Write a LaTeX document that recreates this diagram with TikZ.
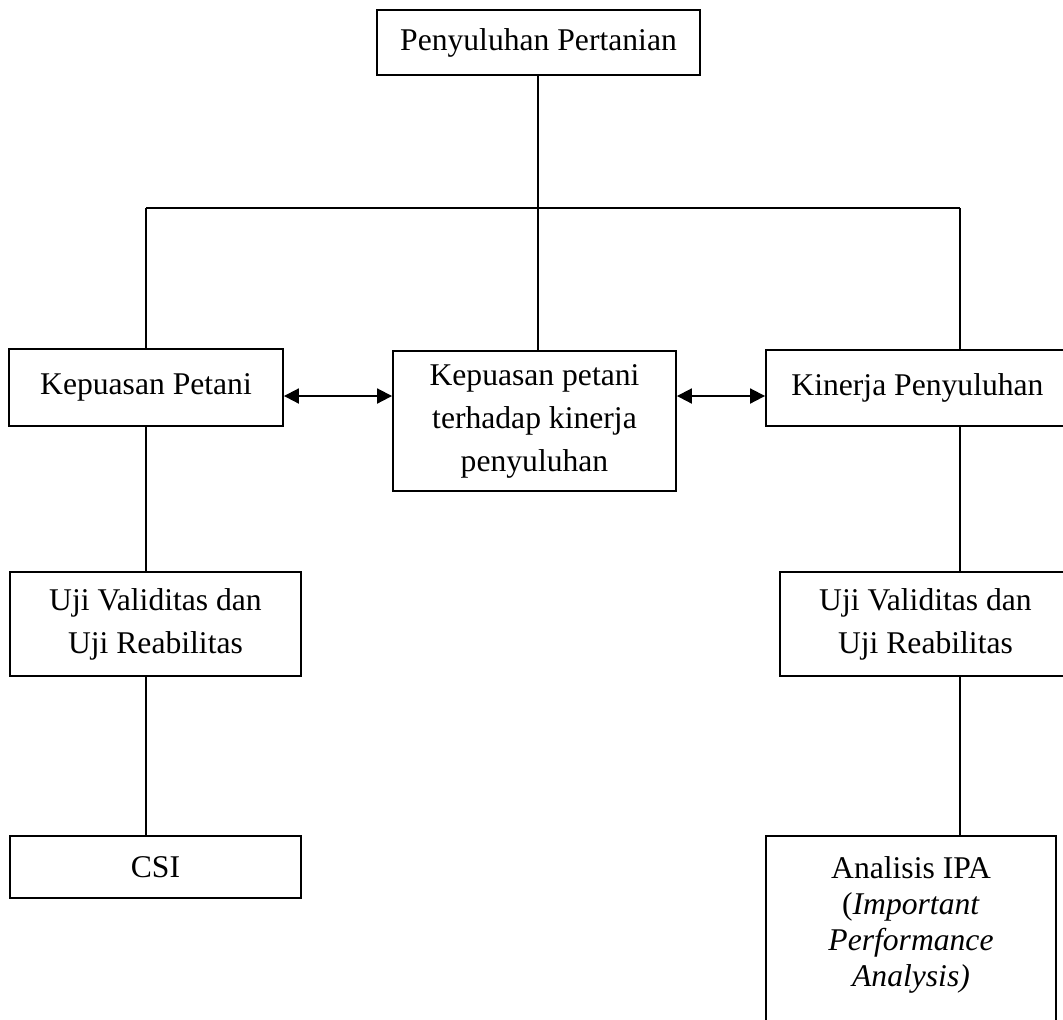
\documentclass[tikz,border=0pt]{standalone}
\usepackage{fontspec}
\setmainfont{Liberation Serif}
\usetikzlibrary{arrows.meta}

\begin{document}
\begin{tikzpicture}[x=0.02cm, y=-0.02cm, line width=1.1pt,
  box/.style={draw, align=center, inner sep=0pt, font=\fontsize{18}{24.5}\selectfont},
  link/.style={{Triangle[length=0.3cm,width=0.3cm]}-{Triangle[length=0.3cm,width=0.3cm]}}]
\useasboundingbox (0,0) rectangle (1063,1019);
\clip (0,0) rectangle (1063,1019);
\node[box, minimum width=6.46cm, minimum height=1.3cm] (top) at (538.5,42.5) {Penyuluhan Pertanian};
\node[box, minimum width=5.48cm, minimum height=1.54cm] (kp) at (146,387.5) {Kepuasan Petani};
\node[box, minimum width=5.66cm, minimum height=2.8cm] (mid) at (534.5,421) {Kepuasan petani\\terhadap kinerja\\penyuluhan};
\node[box, minimum width=6.06cm, minimum height=1.52cm] (kin) at (917.5,388) {Kinerja Penyuluhan};
\node[box, minimum width=5.82cm, minimum height=2.08cm] (uL) at (155.5,624) {Uji Validitas dan\\Uji Reabilitas};
\node[box, minimum width=5.82cm, minimum height=2.08cm] (uR) at (925.5,624) {Uji Validitas dan\\Uji Reabilitas};
\node[box, minimum width=5.82cm, minimum height=1.24cm] (csi) at (155.5,867) {CSI};
\node[box, minimum width=5.8cm, minimum height=4.08cm,
  label={[anchor=north, yshift=-0.3cm, align=center, font=\fontsize{18}{20.5}\selectfont]north:{Analisis IPA\\(\textit{Important}\\\textit{Performance}\\\textit{Analysis)}}}] (ipa) at (911,938) {};
\coordinate (hub) at (538,208);
\coordinate (cl) at (146,208);
\coordinate (cr) at (960,208);
\coordinate (arr) at (0,396);
\draw (top.south -| hub) -- (hub);
\draw (hub) -- (hub |- mid.north);
\draw (cl) -- (cr);
\draw (cl) -- (kp.north);
\draw (cr) -- (cr |- kin.north);
\draw[link] (kp.east |- arr) -- (mid.west |- arr);
\draw[link] (mid.east |- arr) -- (kin.west |- arr);
\draw (kp.south) -- (kp.south |- uL.north);
\draw (kp.south |- uL.south) -- (kp.south |- csi.north);
\draw (cr |- kin.south) -- (cr |- uR.north);
\draw (cr |- uR.south) -- (cr |- ipa.north);
\end{tikzpicture}
\end{document}
